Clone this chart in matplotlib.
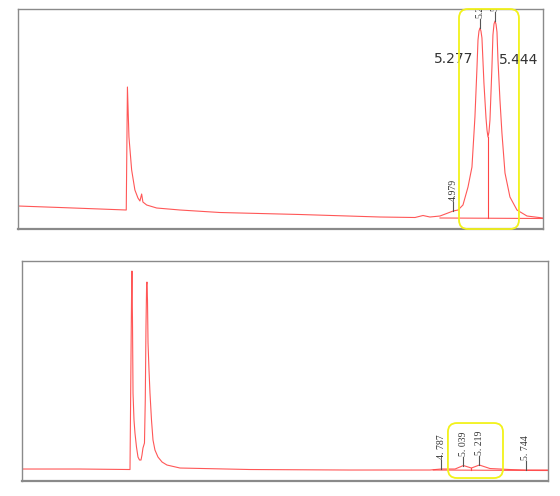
import numpy as np
import matplotlib.pyplot as plt
from matplotlib.patches import FancyBboxPatch
from matplotlib.transforms import IdentityTransform

# top chromatogram (retention time in min, signal in mAU)
top_t = [0.144, 0.610, 1.055, 1.347, 1.360, 1.377, 1.407, 1.443, 1.477, 1.499,
         1.518, 1.532, 1.574, 1.685, 1.944, 2.388, 3.277, 4.166, 4.555, 4.644,
         4.721, 4.833, 4.921, 4.979, 5.033, 5.088, 5.144, 5.188, 5.221, 5.244,
         5.255, 5.266, 5.277, 5.288, 5.299, 5.321, 5.344, 5.355, 5.366, 5.377,
         5.388, 5.410, 5.421, 5.433, 5.444, 5.455, 5.466, 5.477, 5.499, 5.521,
         5.555, 5.610, 5.688, 5.799, 5.888, 5.977]
top_s = [23, 21.5, 20, 19, 142, 92, 59, 39, 31, 28,
         35, 27, 24, 21, 19, 16.5, 14.5, 12, 11.5, 13.5,
         12, 13, 16, 18, 19, 24, 42, 62, 112, 162,
         189, 198, 201, 198, 191, 146, 111, 99, 92, 97,
         109, 162, 194, 205, 208, 205, 197, 169, 129, 96,
         56, 32, 19, 13, 12, 11]
top_labels = [4.979, 5.277, 5.444]
top_big = ["5.277", "5.444"]
top_window = (5.044, 5.710)
top_valley = 5.366

# bottom chromatogram
bot_t = [0.069, 0.722, 1.285, 1.302, 1.307, 1.313, 1.319, 1.330, 1.341, 1.358,
         1.375, 1.392, 1.409, 1.420, 1.431, 1.448, 1.457, 1.465, 1.472, 1.476,
         1.482, 1.488, 1.499, 1.510, 1.527, 1.544, 1.566, 1.600, 1.646, 1.701,
         1.848, 2.636, 3.762, 4.663, 4.787, 4.945, 5.039, 5.129, 5.219, 5.338,
         5.563, 5.744, 5.992]
bot_s = [12, 12, 11.5, 181, 210, 161, 88, 61, 48, 34,
         24, 21, 21, 26, 33, 38, 81, 154, 196, 199,
         181, 138, 111, 88, 61, 41, 31, 24, 19, 16,
         13, 11.5, 11, 11, 12, 12, 15.5, 13, 16, 12.5,
         11.5, 11, 11]
bot_labels = [4.787, 5.039, 5.219, 5.744]
bot_window = (4.865, 5.485)
bot_valley = 5.129

red = '#ff4545'
fig = plt.figure(figsize=(5.6, 4.96), dpi=100)
ax1 = fig.add_axes([0.0321, 0.5383, 0.9375, 0.4435])
ax2 = fig.add_axes([0.0393, 0.0302, 0.9393, 0.4435])


def peak_labels(ax, t, s, labels, fmt):
    for lt in labels:
        y0 = np.interp(lt, t, s)
        ax.plot([lt, lt], [y0, y0 + 9], color='#555555', lw=0.8)
        ax.text(lt, y0 + 10, fmt(lt), rotation=90, ha='center', va='bottom',
                fontsize=7, family='Liberation Serif', color='#333333',
                clip_on=True)


def highlight(ax, lo, hi, y_lo, y_hi):
    (x0, y0) = ax.transData.transform((lo, y_lo))
    (x1, y1) = ax.transData.transform((hi, y_hi))
    box = FancyBboxPatch((x0, y0), x1 - x0, y1 - y0,
                         boxstyle='round,pad=0,rounding_size=9',
                         transform=IdentityTransform(), fill=False,
                         edgecolor='#f2f21a', lw=1.3, clip_on=False, zorder=5)
    fig.add_artist(box)


for ax, t, s in [(ax1, top_t, top_s), (ax2, bot_t, bot_s)]:
    ax.plot(t, s, color=red, lw=0.8, alpha=0.9)
    ax.set_xticks([])
    ax.set_yticks([])
    ax.set_ylim(0, 220)
    for side in ['top', 'right', 'left']:
        ax.spines[side].set_color('#8a8a8a')
        ax.spines[side].set_linewidth(1.0)
    ax.spines['bottom'].set_color('#8a8a8a')
    ax.spines['bottom'].set_linewidth(1.6)

ax1.set_xlim(top_t[0], top_t[-1])
ax2.set_xlim(bot_t[0], bot_t[-1])

# integration baselines and drop lines
ax1.plot([4.833, top_t[-1]], [11, 10.5], color=red, lw=0.8, alpha=0.9)
ax1.plot([top_valley, top_valley], [np.interp(top_valley, top_t, top_s), 11],
         color=red, lw=0.8)
ax2.plot([4.70, bot_t[-1]], [11, 10.5], color=red, lw=0.8, alpha=0.9)
ax2.plot([bot_valley, bot_valley], [np.interp(bot_valley, bot_t, bot_s), 11],
         color=red, lw=0.8)

peak_labels(ax1, top_t, top_s, top_labels, lambda v: '%.3f' % v)
peak_labels(ax2, bot_t, bot_s, bot_labels, lambda v: ('%.3f' % v).replace('.', '. '))

# large retention time labels
ax1.text(4.988, 170, top_big[0], ha='center', va='center', fontsize=10,
         color='#333333')
ax1.text(5.710, 169, top_big[1], ha='center', va='center', fontsize=10,
         color='#333333')

fig.canvas.draw()
highlight(ax1, top_window[0], top_window[1], 0, 220)
highlight(ax2, bot_window[0], bot_window[1], 3, 58)

fig.savefig('out.png', dpi=100)
